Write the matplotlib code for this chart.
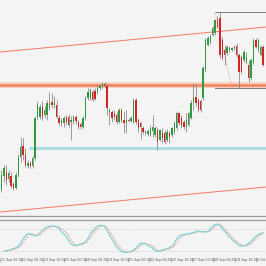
import matplotlib
matplotlib.use('Agg')
import matplotlib.pyplot as plt
import matplotlib.transforms as mtransforms
import numpy as np

# H4 candles (left to right)
opens = [1.1910, 1.1924, 1.1928, 1.1921, 1.1924, 1.1916, 1.1912, 1.1925, 1.1943, 1.1954,
         1.1945, 1.1934, 1.1937, 1.1934, 1.1942, 1.1983, 1.1983, 1.1993, 1.1985, 1.1985,
         1.1992, 1.1998, 1.1995, 1.1995, 1.1982, 1.1977, 1.1977, 1.1983, 1.1983, 1.1978,
         1.1978, 1.1983, 1.1978, 1.1976, 1.1973, 1.1982, 1.2002, 1.2002, 1.2008, 1.2009,
         1.2008, 1.2012, 1.2014, 1.2016, 1.2014, 1.1988, 1.1988, 1.1987, 1.1985, 1.1978,
         1.1990, 1.1980, 1.1977, 1.1980, 1.1979, 1.1978, 1.2000, 1.1980, 1.1977, 1.1972,
         1.1968, 1.1966, 1.1965, 1.1969, 1.1965, 1.1970, 1.1960, 1.1968, 1.1967, 1.1960,
         1.1967, 1.1965, 1.1968, 1.1972, 1.1987, 1.1982, 1.1978, 1.1973, 1.1975, 1.1982,
         1.1997, 1.2003, 1.2000, 1.1999, 1.2002, 1.2030, 1.2055, 1.2058, 1.2065, 1.2067,
         1.2080, 1.2082, 1.2060, 1.2050, 1.2047, 1.2050, 1.2050, 1.2053, 1.2054, 1.2045,
         1.2043, 1.2040, 1.2038, 1.2035, 1.2022, 1.2037, 1.2060, 1.2050, 1.2045, 1.2053]
closes = [1.1925, 1.1932, 1.1920, 1.1927, 1.1914, 1.1912, 1.1925, 1.1943, 1.1953, 1.1945,
          1.1935, 1.1937, 1.1934, 1.1942, 1.1982, 1.1995, 1.1993, 1.1983, 1.1990, 1.1997,
          1.1997, 1.1995, 1.1998, 1.1983, 1.1977, 1.1980, 1.1982, 1.1978, 1.1975, 1.1980,
          1.1983, 1.1979, 1.1973, 1.1973, 1.1982, 1.2002, 1.2008, 1.2010, 1.2000, 1.2001,
          1.2012, 1.2014, 1.2016, 1.2014, 1.1992, 1.1990, 1.1982, 1.1983, 1.1978, 1.1990,
          1.1980, 1.1977, 1.1980, 1.1979, 1.1982, 1.2000, 1.1978, 1.1972, 1.1973, 1.1968,
          1.1967, 1.1969, 1.1972, 1.1973, 1.1972, 1.1958, 1.1970, 1.1962, 1.1958, 1.1968,
          1.1963, 1.1972, 1.1977, 1.1987, 1.1977, 1.1975, 1.1973, 1.1980, 1.1987, 1.1997,
          1.2003, 1.1997, 1.1990, 1.1990, 1.2032, 1.2060, 1.2062, 1.2064, 1.2072, 1.2080,
          1.2073, 1.2045, 1.2042, 1.2045, 1.2053, 1.2052, 1.2052, 1.2052, 1.2045, 1.2028,
          1.2028, 1.2048, 1.2043, 1.2022, 1.2040, 1.2060, 1.2053, 1.2060, 1.2053, 1.2035]
highs = [1.1930, 1.1935, 1.1935, 1.1930, 1.1928, 1.1918, 1.1928, 1.1946, 1.1963, 1.1962,
         1.1952, 1.1940, 1.1939, 1.1944, 1.1984, 1.1999, 1.1996, 1.1999, 1.1994, 1.2000,
         1.2008, 1.2007, 1.2004, 1.2000, 1.1985, 1.1982, 1.1984, 1.1985, 1.1986, 1.1984,
         1.1985, 1.1985, 1.1980, 1.1978, 1.1984, 1.2004, 1.2012, 1.2012, 1.2011, 1.2012,
         1.2015, 1.2016, 1.2018, 1.2018, 1.2017, 1.1992, 1.1990, 1.1990, 1.1988, 1.1992,
         1.1992, 1.1988, 1.1990, 1.1982, 1.1984, 1.2002, 1.2002, 1.1982, 1.1979, 1.1974,
         1.1970, 1.1971, 1.1975, 1.1985, 1.1974, 1.1973, 1.1971, 1.1972, 1.1970, 1.1971,
         1.1969, 1.1973, 1.1979, 1.1989, 1.1988, 1.1985, 1.1980, 1.1987, 1.1988, 1.2000,
         1.2017, 1.2016, 1.2002, 1.2001, 1.2034, 1.2062, 1.2064, 1.2066, 1.2074, 1.2081,
         1.2084, 1.2088, 1.2063, 1.2055, 1.2055, 1.2054, 1.2053, 1.2055, 1.2057, 1.2047,
         1.2045, 1.2050, 1.2048, 1.2040, 1.2042, 1.2062, 1.2062, 1.2062, 1.2055, 1.2055]
lows = [1.1908, 1.1918, 1.1915, 1.1918, 1.1912, 1.1910, 1.1911, 1.1923, 1.1938, 1.1940,
        1.1933, 1.1932, 1.1932, 1.1932, 1.1940, 1.1980, 1.1981, 1.1980, 1.1982, 1.1980,
        1.1990, 1.1992, 1.1992, 1.1982, 1.1975, 1.1974, 1.1973, 1.1975, 1.1973, 1.1960,
        1.1976, 1.1976, 1.1971, 1.1971, 1.1972, 1.1980, 1.2000, 1.2000, 1.1999, 1.2000,
        1.2006, 1.2010, 1.2012, 1.2012, 1.1985, 1.1975, 1.1978, 1.1980, 1.1976, 1.1977,
        1.1978, 1.1967, 1.1967, 1.1978, 1.1978, 1.1977, 1.1976, 1.1968, 1.1961, 1.1966,
        1.1965, 1.1964, 1.1964, 1.1963, 1.1963, 1.1950, 1.1959, 1.1957, 1.1956, 1.1958,
        1.1957, 1.1963, 1.1966, 1.1970, 1.1975, 1.1972, 1.1971, 1.1968, 1.1974, 1.1981,
        1.1990, 1.1994, 1.1988, 1.1988, 1.2000, 1.2028, 1.2054, 1.2056, 1.2064, 1.2065,
        1.2072, 1.2042, 1.2040, 1.2035, 1.2045, 1.2048, 1.2049, 1.2050, 1.2043, 1.2012,
        1.2026, 1.2038, 1.2036, 1.2018, 1.2020, 1.2036, 1.2052, 1.2048, 1.2044, 1.2034]

# stochastic oscillator (main %K and signal %D)
stoch_k = [19, 21, 23, 25, 27, 30, 33, 45, 56, 64,
           68, 66, 63, 61, 64, 71, 77, 83, 86, 88,
           88, 88, 85, 81, 71, 66, 60, 48, 39, 35,
           35, 37, 39, 41, 45, 53, 65, 74, 82, 87,
           90, 90, 87, 78, 66, 55, 45, 33, 26, 19,
           17, 16, 17, 18, 21, 26, 33, 40, 41, 41,
           36, 33, 30, 23, 19, 19, 22, 24, 25, 27,
           31, 36, 48, 57, 63, 64, 65, 67, 68, 69,
           71, 74, 74, 72, 72, 72, 74, 83, 89, 93,
           93, 88, 78, 72, 64, 58, 50, 45, 40, 35,
           33, 34, 37, 41, 47, 54, 60, 65, 68, 70]
stoch_d = [21, 20, 21, 23, 25, 27, 30, 36, 45, 55,
           63, 66, 66, 63, 62, 65, 71, 77, 82, 86,
           87, 88, 87, 85, 79, 75, 71, 60, 49, 41,
           36, 35, 37, 39, 42, 46, 54, 64, 74, 81,
           86, 89, 89, 85, 77, 66, 55, 44, 35, 26,
           21, 17, 17, 17, 19, 22, 27, 33, 38, 41,
           39, 38, 36, 30, 24, 20, 20, 22, 24, 25,
           28, 31, 38, 47, 56, 61, 64, 65, 67, 68,
           69, 71, 73, 73, 73, 72, 73, 76, 82, 88,
           92, 91, 86, 79, 71, 65, 57, 51, 45, 40,
           36, 34, 35, 37, 41, 47, 54, 60, 64, 68]
stoch_levels = [80, 20]

tick_bars = [-2, 7, 16, 25, 34, 43, 52, 61, 70, 79, 88, 97, 106]
tick_labels = ['11 Sep 00:00', '12 Sep 08:00', '13 Sep 16:00', '15 Sep 00:00',
               '18 Sep 08:00', '19 Sep 16:00', '21 Sep 00:00', '22 Sep 08:00',
               '25 Sep 16:00', '27 Sep 00:00', '28 Sep 08:00', '29 Sep 16:00',
               '3 Oct 00:00']

# drawn objects
resistance = 1.20147
resistance_zone = (1.20125, 1.20185)
support = 1.19517
support_start = 11.5
upper_channel = [(0, 1.20481), (109, 1.20727)]
lower_channel = [(0, 1.18881), (109, 1.19127)]
box_start = 89
box_top = 1.2088
box_bottom = 1.2012
fib_line = [(89, 1.2088), (96, 1.2012)]

bg = '#f4f4f4'
green = '#2f9a3c'
red = '#d42424'
wick = '#8c8c8c'

o = np.array(opens)
c = np.array(closes)
h = np.array(highs)
l = np.array(lows)
x = np.arange(len(o))
xlim = (-0.625, 110.21)

fig = plt.figure(figsize=(2.66, 2.66), dpi=100, facecolor=bg)
ax = fig.add_axes([0, 50 / 266, 1, 216 / 266], facecolor=bg)
ax2 = fig.add_axes([0, 8.5 / 266, 1, 37.5 / 266], facecolor=bg)

# main chart
ax.axhspan(*resistance_zone, color='#f8d2c4', lw=0, zorder=1)
ax.axhline(resistance, color='#f3845e', lw=1.9, zorder=2)
ax.plot([support_start, xlim[1] + 1], [support, support], color='#a8dbe5',
        lw=2.0, solid_capstyle='butt', zorder=2)
ax.axline(*upper_channel, color='#f27f6c', lw=0.75, zorder=2)
ax.axline(*lower_channel, color='#f27f6c', lw=0.75, zorder=2)
ax.plot([box_start, xlim[1] + 1], [box_top, box_top], color='#7a7a7a', lw=0.7, zorder=2)
ax.plot([box_start, xlim[1] + 1], [box_bottom, box_bottom], color='#7a7a7a', lw=0.7, zorder=2)
ax.plot(*zip(*fib_line), color='#f3a0a0', lw=0.7, ls=(0, (1, 1.2)), zorder=2)

ax.vlines(x, l, h, color=wick, lw=0.6, zorder=3)
up = c >= o
body_bottom = np.minimum(o, c)
body_h = np.maximum(np.abs(c - o), 0.00008)
ax.bar(x[up], body_h[up], bottom=body_bottom[up], width=0.62, color=green, lw=0, zorder=4)
ax.bar(x[~up], body_h[~up], bottom=body_bottom[~up], width=0.62, color=red, lw=0, zorder=4)

ax.set_xlim(*xlim)
ax.set_ylim(1.1884, 1.2100)
ax.set_xticks([])
ax.set_yticks([])
for side in ['top', 'left', 'right']:
    ax.spines[side].set_visible(False)
ax.spines['bottom'].set_color('#9a9a9a')
ax.spines['bottom'].set_linewidth(0.9)

# stochastic sub-window
for lev in stoch_levels:
    ax2.axhline(lev, color='#bdbdbd', lw=0.5, ls=(0, (1, 1.5)))
ax2.plot(x, stoch_d, color='#f08a8a', lw=0.8, ls=(0, (1, 1)))
ax2.plot(x, stoch_k, color='#72d3d3', lw=0.8)
ax2.set_xlim(*xlim)
ax2.set_ylim(2.3, 104.5)
ax2.set_yticks([])
for side in ['bottom', 'left', 'right']:
    ax2.spines[side].set_visible(False)
ax2.spines['top'].set_color('#9a9a9a')
ax2.spines['top'].set_linewidth(0.9)

ax2.set_xticks(tick_bars, tick_labels, fontsize=2.3, color='#555555')
ax2.tick_params(axis='x', direction='out', length=3, width=0.4, color='#888888', pad=-2.3)
offset = mtransforms.ScaledTranslation(1.0 / 100, 0, fig.dpi_scale_trans)
for lab in ax2.get_xticklabels():
    lab.set_ha('left')
    lab.set_transform(lab.get_transform() + offset)

fig.savefig('out.png', dpi=100, facecolor=bg)
